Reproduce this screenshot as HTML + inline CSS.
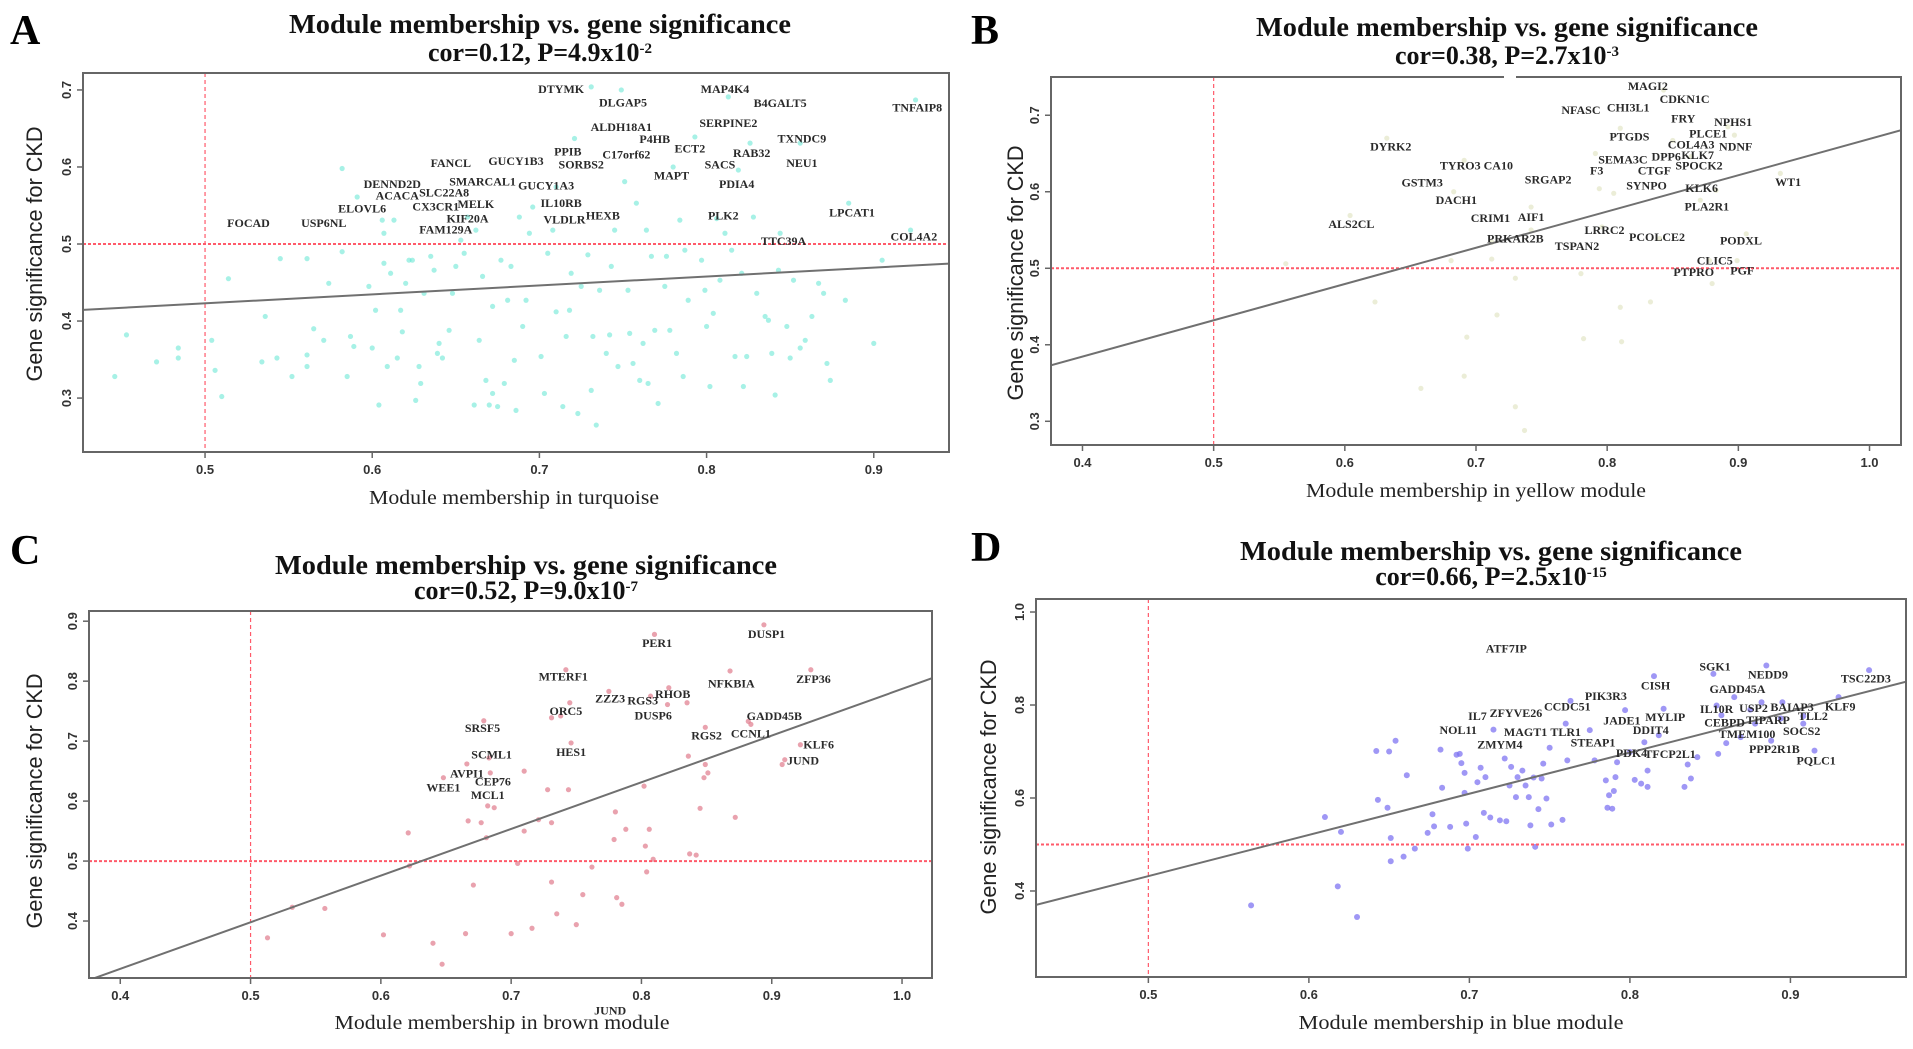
<!DOCTYPE html>
<html><head><meta charset="utf-8"><style>
html,body{margin:0;padding:0;background:#fff;}
svg{display:block;}
.lbl{font-family:"Liberation Serif",serif;font-weight:bold;font-size:12px;fill:#2a2a2a;}
.tt{font-family:"Liberation Serif",serif;font-weight:bold;fill:#111;}
.tick{font-family:"Liberation Sans",sans-serif;font-weight:bold;font-size:13px;fill:#333;}
.ytitle{font-family:"Liberation Sans",sans-serif;font-size:22px;fill:#222;}
.xtitle{font-family:"Liberation Serif",serif;font-size:20px;fill:#222;}
.pl{font-family:"Liberation Serif",serif;font-weight:bold;font-size:42px;fill:#000;}
</style></head><body>
<svg id="fig" width="1913" height="1049" viewBox="0 0 1913 1049" xmlns="http://www.w3.org/2000/svg"></svg>
<script>
// ---------- Panel A data (turquoise) ----------
const aX=[.446,.453,.471,.484,.484,.504,.506,.510,.514,.536,.534,.543,.545,.552,.561,.561,.561,.565,.571,.574,.582,.582,.585,.587,.589,.591,.598,.600,.602,.604,.606,.607,.607,.609,.611,.613,.615,.617,.618,.620,.622,.624,.626,.628,.629,.631,.635,.637,.639,.640,.642,.646,.648,.650,.653,.655,.657,.661,.662,.664,.666,.668,.670,.672,.672,.675,.677,.679,.681,.683,.685,.686,.688,.690,.692,.694,.696,.701,.703,.705,.708,.710,.710,.714,.716,.718,.719,.721,.723,.725,.729,.731,.731,.732,.734,.736,.740,.742,.743,.745,.747,.749,.751,.753,.754,.756,.758,.760,.762,.764,.765,.767,.769,.771,.775,.776,.778,.780,.782,.784,.786,.787,.789,.793,.797,.799,.800,.802,.804,.806,.808,.811,.813,.815,.817,.819,.821,.822,.824,.826,.828,.830,.835,.837,.839,.841,.843,.844,.848,.850,.852,.856,.856,.859,.863,.867,.870,.872,.874,.883,.885,.900,.905,.922,.925];
const aY=[.328,.382,.347,.365,.352,.375,.336,.302,.455,.406,.347,.352,.481,.328,.481,.356,.341,.390,.375,.449,.598,.490,.328,.380,.367,.561,.445,.365,.414,.291,.531,.514,.475,.341,.462,.531,.352,.414,.386,.449,.479,.479,.297,.341,.319,.436,.484,.466,.358,.371,.352,.388,.436,.471,.505,.488,.535,.291,.518,.375,.458,.323,.291,.419,.306,.289,.479,.319,.427,.471,.349,.284,.535,.393,.427,.514,.548,.354,.306,.488,.518,.574,.412,.289,.380,.414,.462,.637,.280,.445,.486,.704,.310,.380,.265,.440,.358,.382,.471,.518,.341,.700,.581,.440,.384,.345,.553,.323,.371,.518,.319,.484,.388,.293,.445,.484,.388,.600,.358,.531,.328,.492,.427,.639,.479,.440,.393,.315,.410,.533,.453,.514,.691,.492,.354,.596,.462,.315,.354,.631,.535,.436,.406,.401,.358,.304,.466,.514,.393,.352,.453,.631,.365,.375,.406,.449,.436,.345,.323,.427,.553,.371,.479,.518,.687];
const aLabels=["DTYMK","DLGAP5","MAP4K4","B4GALT5","TNFAIP8","ALDH18A1","SERPINE2","P4HB","TXNDC9","ECT2","PPIB","C17orf62","RAB32","FANCL","GUCY1B3","SORBS2","SACS","NEU1","MAPT","DENND2D","SMARCAL1","GUCY1A3","PDIA4","SLC22A8","ACACA","CX3CR1","MELK","IL10RB","ELOVL6","LPCAT1","KIF20A","HEXB","VLDLR","PLK2","FOCAD","USP6NL","FAM129A","COL4A2","TTC39A"];
const aLabelX=[.713,.750,.811,.844,.926,.749,.813,.769,.857,.790,.717,.752,.827,.647,.686,.725,.808,.857,.779,.612,.666,.704,.818,.643,.615,.638,.662,.713,.594,.887,.657,.738,.715,.810,.526,.571,.644,.924,.846];
const aLabelY=[.701,.684,.701,.683,.677,.652,.657,.636,.637,.624,.620,.616,.618,.605,.608,.603,.603,.605,.589,.578,.581,.576,.578,.567,.563,.549,.552,.553,.546,.541,.533,.537,.532,.537,.527,.527,.519,.510,.504];
const aFit=[0.365,0.116]; // intercept, slope
const aXTicks=[0.5,0.6,0.7,0.8,0.9];
const aYTicks=[0.3,0.4,0.5,0.6,0.7];

// ---------- Panel B data (yellow, very pale) ----------
const bX=[.555,.632,.691,.683,.681,.712,.712,.730,.716,.693,.691,.658,.623,.730,.737,.780,.782,.810,.811,.833,.880,.794,.805,.810,.843,.850,.864,.892,.897,.883,.871,.932,.899,.878,.742,.742,.604,.796,.840,.906,.791];
const bY=[.506,.670,.641,.600,.510,.534,.512,.487,.439,.410,.359,.343,.456,.319,.288,.493,.408,.449,.404,.456,.480,.604,.598,.683,.733,.667,.646,.685,.674,.602,.589,.624,.510,.510,.580,.550,.569,.554,.539,.545,.650];
const bLabels=["MAGI2","CDKN1C","NFASC","CHI3L1","FRY","NPHS1","PLCE1","PTGDS","COL4A3","NDNF","DYRK2","SEMA3C","DPP6","KLK7","SPOCK2","TYRO3","CA10","F3","CTGF","SRGAP2","GSTM3","SYNPO","KLK6","WT1","DACH1","PLA2R1","CRIM1","AIF1","ALS2CL","LRRC2","PCOLCE2","PODXL","PRKAR2B","TSPAN2","CLIC5","PTPRO","PGF"];
const bLabelX=[.831,.859,.780,.816,.858,.896,.877,.817,.864,.898,.635,.812,.845,.869,.870,.688,.717,.792,.836,.755,.659,.830,.872,.938,.685,.876,.711,.742,.605,.798,.838,.902,.730,.777,.882,.866,.903];
const bLabelY=[.738,.721,.707,.710,.696,.691,.676,.672,.662,.659,.659,.642,.646,.648,.634,.634,.634,.628,.628,.616,.612,.608,.605,.613,.589,.581,.566,.567,.558,.550,.541,.536,.539,.529,.510,.495,.497];
const bFit=[0.195,0.474];
const bXTicks=[0.4,0.5,0.6,0.7,0.8,0.9,1.0];
const bYTicks=[0.3,0.4,0.5,0.6,0.7];

// ---------- Panel C data (brown / pink) ----------
const cX=[.513,.532,.557,.602,.621,.622,.640,.647,.648,.665,.666,.667,.671,.677,.679,.681,.682,.683,.684,.687,.700,.705,.710,.710,.716,.721,.728,.731,.731,.731,.735,.738,.742,.744,.745,.746,.750,.755,.762,.775,.779,.780,.781,.785,.788,.802,.803,.804,.806,.807,.809,.810,.820,.821,.835,.836,.837,.842,.845,.848,.849,.849,.851,.868,.872,.882,.884,.894,.908,.910,.922,.930];
const cY=[.372,.423,.421,.377,.547,.492,.363,.328,.639,.379,.662,.567,.460,.564,.734,.539,.592,.672,.647,.589,.379,.496,.650,.550,.388,.569,.619,.564,.465,.739,.412,.742,.819,.619,.764,.697,.394,.444,.490,.783,.536,.582,.439,.428,.553,.625,.525,.482,.553,.775,.503,.878,.761,.789,.764,.675,.512,.510,.588,.639,.661,.723,.647,.817,.573,.733,.728,.894,.661,.669,.694,.819];
const cLabels=["PER1","DUSP1","MTERF1","NFKBIA","ZFP36","ZZZ3","RGS3","RHOB","ORC5","DUSP6","GADD45B","SRSF5","RGS2","CCNL1","KLF6","HES1","SCML1","JUND","AVPI1","CEP76","WEE1","MCL1","JUND"];
const cLabelX=[.812,.896,.740,.869,.932,.776,.801,.824,.742,.809,.902,.678,.850,.884,.936,.746,.685,.924,.666,.686,.648,.682,.776];
const cLabelY=[.864,.879,.808,.796,.804,.771,.768,.779,.750,.743,.742,.722,.709,.713,.694,.682,.678,.668,.646,.633,.623,.610,.251];
const cFit=[0.009,0.778];
const cXTicks=[0.4,0.5,0.6,0.7,0.8,0.9,1.0];
const cYTicks=[0.4,0.5,0.6,0.7,0.8,0.9];

// ---------- Panel D data (blue) ----------
const dX=[.564,.610,.618,.620,.630,.642,.643,.649,.650,.651,.651,.654,.659,.661,.666,.674,.677,.678,.682,.683,.688,.692,.694,.695,.697,.697,.698,.699,.704,.705,.707,.709,.710,.713,.715,.719,.722,.723,.725,.726,.729,.730,.733,.735,.737,.738,.740,.741,.743,.745,.746,.748,.750,.751,.758,.760,.761,.763,.775,.778,.785,.786,.787,.789,.790,.791,.792,.797,.800,.803,.807,.809,.811,.811,.815,.818,.821,.834,.836,.838,.842,.852,.854,.855,.857,.860,.865,.869,.875,.878,.882,.885,.888,.894,.895,.908,.908,.915,.930,.949];
const dY=[.369,.559,.410,.527,.344,.701,.596,.579,.700,.514,.464,.723,.474,.649,.491,.525,.565,.539,.704,.622,.538,.693,.695,.675,.654,.611,.545,.491,.516,.634,.665,.568,.645,.558,.747,.552,.685,.550,.627,.667,.602,.645,.659,.627,.602,.541,.644,.495,.576,.642,.674,.599,.708,.543,.553,.760,.681,.809,.746,.681,.638,.579,.606,.577,.615,.645,.677,.789,.699,.639,.631,.720,.659,.624,.862,.735,.792,.624,.672,.642,.688,.867,.799,.695,.778,.718,.817,.731,.790,.760,.806,.885,.723,.771,.806,.776,.760,.702,.817,.875];
const dLabels=["ATF7IP","SGK1","NEDD9","TSC22D3","CISH","GADD45A","PIK3R3","CCDC51","ZFYVE26","IL10R","USP2","BAIAP3","KLF9","IL7","JADE1","MYLIP","CEBPD","TIPARP","TLL2","NOL11","MAGT1","TLR1","DDIT4","SOCS2","TMEM100","ZMYM4","STEAP1","PPP2R1B","PDK4","TFCP2L1","PQLC1"];
const dLabelX=[.723,.853,.886,.947,.816,.867,.785,.761,.729,.854,.877,.901,.931,.705,.795,.822,.859,.886,.914,.693,.735,.760,.813,.907,.873,.719,.777,.890,.801,.825,.916];
const dLabelY=[.921,.883,.866,.857,.842,.834,.819,.797,.783,.791,.794,.796,.797,.776,.767,.774,.762,.768,.776,.746,.742,.742,.746,.744,.738,.715,.719,.705,.697,.695,.681];
const dFit=[-0.011,0.886];
const dXTicks=[0.5,0.6,0.7,0.8,0.9];
const dYTicks=[0.4,0.6,0.8,1.0];

const NS="http://www.w3.org/2000/svg";
const svg=document.getElementById('fig');
function mk(tag,attrs,parent){const e=document.createElementNS(NS,tag);for(const k in attrs)e.setAttribute(k,attrs[k]);(parent||svg).appendChild(e);return e;}

function panel(P){
  const g=mk('g',{});
  
  
  const sx=v=>P.L+(v-P.x0)/(P.x1-P.x0)*(P.R-P.L);
  const sy=v=>P.B-(v-P.y0)/(P.y1-P.y0)*(P.B-P.T);
  // letter
  const let_=mk('text',{x:P.letX,y:P.letY,class:'pl'},g);let_.textContent=P.letter;
  
  
  // title
  const t1=mk('text',{x:P.tx,y:P.ty1,class:'tt','font-size':27,'text-anchor':'middle',textLength:502,lengthAdjust:'spacingAndGlyphs'},g);
  t1.textContent='Module membership vs. gene significance';
  
  
  const t2=mk('text',{x:P.tx,y:P.ty2,class:'tt','font-size':26,'text-anchor':'middle'},g);
  
  
  const s1=mk('tspan',{},t2);s1.textContent=P.sub;
  const s2=mk('tspan',{'baseline-shift':'super','font-size':15},t2);s2.textContent=P.exp;
  // clip
  const cid='clip'+P.key;
  const cp=mk('clipPath',{id:cid},g);mk('rect',{x:P.L,y:P.T,width:P.R-P.L,height:P.B-P.T},cp);
  const pg=mk('g',{'clip-path':'url(#'+cid+')'},g);
  // points
  for(let i=0;i<P.xs.length;i++){
    const c=mk('circle',{cx:sx(P.xs[i]),cy:sy(P.ys[i]),r:P.r,fill:P.col,'fill-opacity':P.op},pg);
    
    
  }
  // threshold lines
  const vl=mk('line',{x1:sx(0.5),x2:sx(0.5),y1:P.T,y2:P.B,stroke:'#ff5a6a','stroke-width':1.2,'stroke-dasharray':'4,3'},pg);
  
  
  const hl=mk('line',{x1:P.L,x2:P.R,y1:sy(0.5),y2:sy(0.5),stroke:'#ff5a6a','stroke-width':2,'stroke-dasharray':'3,2'},pg);
  
  
  // fit line
  const f=P.fit;
  const fl=mk('line',{x1:sx(P.x0),y1:sy(f[0]+f[1]*P.x0),x2:sx(P.x1),y2:sy(f[0]+f[1]*P.x1),stroke:'#707070','stroke-width':2},pg);
  
  
  // labels
  for(let i=0;i<P.labels.length;i++){
    const t=mk('text',{x:sx(P.lx[i]),y:sy(P.ly[i])+4,class:'lbl','text-anchor':'middle'},g);
    t.textContent=P.labels[i];
    
    
  }
  // box
  const bx=mk('rect',{x:P.L,y:P.T,width:P.R-P.L,height:P.B-P.T,fill:'none',stroke:'#666','stroke-width':2},g);
  
  
  if(P.gap) mk('rect',{x:P.gap[0],y:P.T-2,width:P.gap[1],height:4,fill:'#fff'},g);
  // ticks
  P.xt.forEach(v=>{
    mk('line',{x1:sx(v),x2:sx(v),y1:P.B,y2:P.B+6,stroke:'#666','stroke-width':1.5},g);
    const t=mk('text',{x:sx(v),y:P.B+22,class:'tick','text-anchor':'middle'},g);t.textContent=v.toFixed(1);
    
    
  });
  P.yt.forEach(v=>{
    mk('line',{x1:P.L-6,x2:P.L,y1:sy(v),y2:sy(v),stroke:'#666','stroke-width':1.5},g);
    const t=mk('text',{x:0,y:0,class:'tick','text-anchor':'middle',transform:'translate('+(P.L-12)+','+sy(v)+') rotate(-90)'},g);t.textContent=v.toFixed(1);
    
    
  });
  const yt=mk('text',{x:0,y:0,class:'ytitle','text-anchor':'middle',textLength:255,lengthAdjust:'spacingAndGlyphs',transform:'translate('+P.ytx+','+P.yty+') rotate(-90)'},g);
  yt.textContent='Gene significance for CKD';
  
  
  const xt=mk('text',{x:P.xtx,y:P.xty,class:'xtitle','text-anchor':'middle',textLength:P.xtl,lengthAdjust:'spacingAndGlyphs'},g);
  xt.textContent=P.xtitle;
  
  
}

panel({key:'a',letter:'A',letX:10,letY:44,tx:540,ty1:33,ty2:61,sub:'cor=0.12, P=4.9x10',exp:'-2',
  L:83,R:949,T:73,B:452,x0:0.427,x1:0.945,y0:0.23,y1:0.722,xs:aX,ys:aY,col:'#5fe6d2',op:0.55,r:2.6,
  labels:aLabels,lx:aLabelX,ly:aLabelY,fit:aFit,xt:aXTicks,yt:aYTicks,ytx:42,yty:254,xtx:514,xty:504,xtl:290,xtitle:'Module membership in turquoise'});
panel({key:'b',letter:'B',letX:971,letY:44,tx:1507,ty1:36,ty2:64,sub:'cor=0.38, P=2.7x10',exp:'-3',
  L:1051,R:1901,T:77,B:445,x0:0.376,x1:1.024,y0:0.269,y1:0.75,xs:bX,ys:bY,col:'#d8dcb0',op:0.5,r:2.6,gap:[1504,12],
  labels:bLabels,lx:bLabelX,ly:bLabelY,fit:bFit,xt:bXTicks,yt:bYTicks,ytx:1023,yty:273,xtx:1476,xty:497,xtl:340,xtitle:'Module membership in yellow module'});
panel({key:'c',letter:'C',letX:10,letY:564,tx:526,ty1:574,ty2:599,sub:'cor=0.52, P=9.0x10',exp:'-7',
  L:89,R:932,T:611,B:978,x0:0.376,x1:1.023,y0:0.305,y1:0.917,xs:cX,ys:cY,col:'#e07a8c',op:0.7,r:2.6,
  labels:cLabels,lx:cLabelX,ly:cLabelY,fit:cFit,xt:cXTicks,yt:cYTicks,ytx:42,yty:801,xtx:502,xty:1029,xtl:335,xtitle:'Module membership in brown module'});
panel({key:'d',letter:'D',letX:971,letY:561,tx:1491,ty1:560,ty2:585,sub:'cor=0.66, P=2.5x10',exp:'-15',
  L:1036,R:1906,T:599,B:977,x0:0.43,x1:0.972,y0:0.215,y1:1.028,xs:dX,ys:dY,col:'#7f74f2',op:0.75,r:3,
  labels:dLabels,lx:dLabelX,ly:dLabelY,fit:dFit,xt:dXTicks,yt:dYTicks,ytx:996,yty:787,xtx:1461,xty:1029,xtl:325,xtitle:'Module membership  in blue module'});
</script>
</body></html>
